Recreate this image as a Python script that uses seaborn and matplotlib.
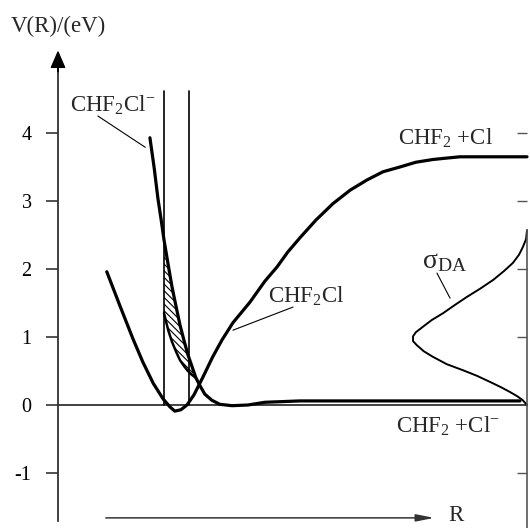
import numpy as np
import pandas as pd
import seaborn as sns
import matplotlib
matplotlib.use("Agg")
import matplotlib.pyplot as plt

# ---------------- data (R in arbitrary units) ----------------
neutral_R = [1.04, 1.32, 1.60, 1.81, 2.03, 2.24, 2.39, 2.49, 2.62, 2.75, 2.90, 3.09,
             3.30, 3.50, 3.73, 4.09, 4.41, 4.67, 4.90, 5.16, 5.50, 5.86, 6.23, 6.59,
             6.93, 7.29, 7.63, 7.99, 8.27, 8.57, 9.21, 10.0]
neutral_V = [1.96, 1.46, 0.97, 0.63, 0.32, 0.09, -0.03, -0.09, -0.07, 0.00, 0.15, 0.41,
             0.71, 0.96, 1.21, 1.51, 1.82, 2.03, 2.25, 2.46, 2.72, 2.96, 3.16, 3.31,
             3.43, 3.50, 3.57, 3.61, 3.63, 3.65, 3.65, 3.65]

anion_R = [1.96, 2.05, 2.13, 2.20, 2.26, 2.35, 2.43, 2.52, 2.60, 2.69, 2.77, 2.86, 2.94,
           3.03, 3.13, 3.28, 3.45, 3.71, 4.05, 4.41, 5.16, 9.85]
anion_V = [3.93, 3.49, 3.04, 2.72, 2.43, 2.06, 1.74, 1.44, 1.18, 0.94, 0.74, 0.56, 0.40,
           0.28, 0.16, 0.07, 0.01, -0.01, 0.00, 0.04, 0.06, 0.06]

# Franck-Condon window and hatched band
window_R = [2.26, 2.79]
window_top = 4.62
band_R = [2.26, 2.35, 2.43, 2.52, 2.60, 2.69, 2.77, 2.86, 2.94]
band_upper = [2.43, 2.06, 1.74, 1.44, 1.18, 0.94, 0.74, 0.56, 0.40]
band_lower = [1.35, 1.10, 0.93, 0.78, 0.66, 0.57, 0.50, 0.44, 0.40]

# sigma_DA profile (drawn sideways from the right axis)
sigma_R = [10.0, 9.98, 9.91, 9.83, 9.70, 9.51, 9.28, 9.00, 8.72, 8.46, 8.21, 7.97,
           7.78, 7.63, 7.57, 7.57, 7.65, 7.80, 7.99, 8.29, 8.64, 8.93, 9.21, 9.45,
           9.64, 9.79, 9.91, 10.0]
sigma_V = [2.57, 2.44, 2.32, 2.21, 2.09, 1.97, 1.84, 1.71, 1.59, 1.47, 1.35, 1.25,
           1.15, 1.07, 1.01, 0.94, 0.88, 0.79, 0.71, 0.60, 0.51, 0.43, 0.34, 0.26,
           0.19, 0.13, 0.07, 0.00]

left_ticks = [-1, 0, 1, 2, 3, 4]
right_ticks = [-1, 1, 2, 3, 4]

# ---------------- style ----------------
sns.set_style("white")
plt.rcParams["font.family"] = ["Liberation Serif", "DejaVu Serif"]
plt.rcParams["mathtext.fontset"] = "custom"
plt.rcParams["mathtext.rm"] = "Liberation Serif"
plt.rcParams["mathtext.it"] = "Liberation Serif:italic"
plt.rcParams["axes.unicode_minus"] = False
plt.rcParams["hatch.linewidth"] = 0.8
plt.rcParams["lines.solid_joinstyle"] = "round"

W, H = 530, 528
fig = plt.figure(figsize=(W / 100, H / 100), dpi=100)
ax = fig.add_axes([0, 0, 1, 1])
ax.set_facecolor("white")

# pixel -> data mapping chosen so the left axis sits at R=0, right axis at R=10
px_per_R = 46.9
px_per_V = 68.0
ax.set_xlim(-58 / px_per_R, (W - 58) / px_per_R)
ax.set_ylim(-(H - 405) / px_per_V, 405 / px_per_V)

# curves
df_n = pd.DataFrame({"R": neutral_R, "V": neutral_V})
df_a = pd.DataFrame({"R": anion_R, "V": anion_V})
df_s = pd.DataFrame({"R": sigma_R, "V": sigma_V})
df_b = pd.DataFrame({"R": band_R, "V": band_lower})

sns.lineplot(data=df_n, x="R", y="V", sort=False, estimator=None, color="black", lw=2.3, ax=ax)
sns.lineplot(data=df_a, x="R", y="V", sort=False, estimator=None, color="black", lw=2.3, ax=ax)
sns.lineplot(data=df_b, x="R", y="V", sort=False, estimator=None, color="black", lw=1.8, ax=ax)
sns.lineplot(data=df_s, x="R", y="V", sort=False, estimator=None, color="black", lw=1.4, ax=ax)

ax.fill_between(band_R, band_lower, band_upper, facecolor="white", edgecolor="black",
                hatch="\\\\\\\\\\", linewidth=0, zorder=1)

# window lines
for r in window_R:
    ax.plot([r, r], [0, window_top], color="black", lw=1.2)

# zero line
ax.plot([0, 10.0], [0, 0], color="#333333", lw=1.3, zorder=0)

# axes / spines
for s in ["top", "bottom", "right"]:
    ax.spines[s].set_visible(False)
ax.spines["left"].set_position(("data", 0))
ax.spines["left"].set_bounds(-1.71, 4.97)
ax.spines["left"].set_color("#333333")
ax.spines["left"].set_linewidth(1.3)
ax.set_xticks([])
ax.set_yticks(left_ticks)
ax.set_yticklabels([str(t) for t in left_ticks])
ax.tick_params(axis="y", direction="out", length=9, width=1.2, pad=10,
               labelsize=14.5, colors="#333333", labelcolor="black")
ax.set_xlabel("")
ax.set_ylabel("")

ax2 = ax.twinx()
ax2.set_ylim(ax.get_ylim())
for s in ["top", "bottom", "left"]:
    ax2.spines[s].set_visible(False)
ax2.spines["right"].set_position(("data", 10.0))
ax2.spines["right"].set_bounds(-1.81, 2.57)
ax2.spines["right"].set_color("#555555")
ax2.spines["right"].set_linewidth(1.2)
ax2.set_yticks(right_ticks)
ax2.tick_params(axis="y", direction="in", length=7, width=1.0, labelright=False, colors="#555555")
ax2.set_xticks([])

# axis arrows
ax.annotate("", xy=(0, 5.19), xytext=(0, 4.9),
            arrowprops=dict(width=0.01, headwidth=9.5, headlength=11, facecolor="black",
                            edgecolor="black", shrink=0))
ax.annotate("", xy=(8.08, -1.66), xytext=(0.96, -1.66),
            arrowprops=dict(arrowstyle="-|>,head_length=0.9,head_width=0.18",
                            mutation_scale=12, color="#333333", lw=1.1))

# texts
fs = 16.5
ax.text(0, 5.57, "V(R)/(eV)", ha="center", va="center", fontsize=fs)
ax.text(8.49, -1.63, "R", ha="center", va="center", fontsize=fs)
ax.text(1.17, 4.41, r"CHF$_2$Cl$^{-}$", ha="center", va="center", fontsize=fs)
ax.text(8.27, 3.92, r"CHF$_2$ +Cl", ha="center", va="center", fontsize=fs)
ax.text(5.29, 1.60, r"CHF$_2$Cl", ha="center", va="center", fontsize=fs)
ax.text(8.32, -0.31, r"CHF$_2$ +Cl$^{-}$", ha="center", va="center", fontsize=fs)
ax.text(8.25, 2.11, r"σ$_{\mathrm{DA}}$", ha="center", va="center", fontsize=20)

# leader lines
ax.plot([0.85, 1.86], [4.25, 3.79], color="black", lw=0.8)
ax.plot([3.73, 5.01], [1.10, 1.44], color="black", lw=0.8)
ax.plot([8.08, 8.36], [1.94, 1.57], color="black", lw=0.8)

fig.savefig("out.png", dpi=100)
